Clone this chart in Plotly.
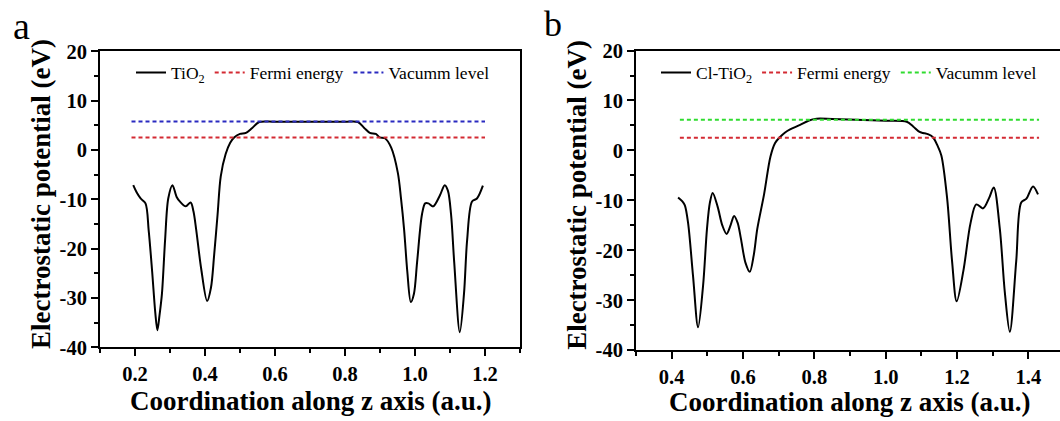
import plotly.graph_objects as go

# ---------------- data ----------------
# Panel a: TiO2 electrostatic potential
tio2_x = [0.195, 0.205, 0.216, 0.230, 0.239, 0.249, 0.258, 0.264, 0.270, 0.277, 0.286, 0.295,
          0.307, 0.319, 0.328, 0.345, 0.359, 0.367, 0.375, 0.389, 0.406, 0.417, 0.426, 0.436,
          0.445, 0.459, 0.472, 0.484, 0.500, 0.517, 0.535, 0.555, 0.600, 0.700, 0.800, 0.837,
          0.855, 0.871, 0.888, 0.899, 0.914, 0.932, 0.951, 0.960, 0.969, 0.978, 0.988, 0.997,
          1.006, 1.020, 1.029, 1.038, 1.052, 1.071, 1.085, 1.094, 1.103, 1.112, 1.128, 1.140,
          1.149, 1.163, 1.177, 1.194]
tio2_y = [-7.1, -8.6, -9.8, -10.8, -16.2, -24.6, -33.0, -36.5, -33.5, -29.1, -18.2, -9.8,
          -7.1, -9.5, -10.4, -11.4, -10.6, -12.4, -16.2, -24.0, -30.6, -27.9, -21.4, -13.0,
          -5.3, -0.8, 1.5, 2.6, 3.3, 3.5, 4.5, 5.7, 5.75, 5.75, 5.75, 5.7,
          4.5, 3.5, 3.3, 2.6, 2.4, 0.5, -4.6, -9.8, -16.2, -24.6, -30.8, -29.1,
          -22.7, -13.0, -10.8, -10.8, -11.4, -9.2, -7.1, -8.2, -13.0, -22.7, -36.9, -29.1,
          -18.2, -10.4, -9.8, -7.2]
a_level_x = [0.19, 1.2]
a_fermi = [2.55, 2.55]
a_vacuum = [5.8, 5.8]

# Panel b: Cl-TiO2 electrostatic potential
cl_x = [0.418, 0.430, 0.437, 0.446, 0.460, 0.474, 0.488, 0.499, 0.507, 0.515, 0.529, 0.542,
        0.554, 0.565, 0.575, 0.585, 0.594, 0.607, 0.619, 0.630, 0.640, 0.659, 0.677, 0.690,
        0.704, 0.718, 0.732, 0.760, 0.785, 0.806, 0.850, 0.937, 1.000, 1.059, 1.077, 1.095,
        1.105, 1.120, 1.133, 1.145, 1.156, 1.172, 1.186, 1.199, 1.218, 1.238, 1.254, 1.273,
        1.290, 1.303, 1.320, 1.334, 1.348, 1.366, 1.380, 1.394, 1.413, 1.427]
cl_y = [-9.4, -10.2, -11.0, -14.5, -25.2, -35.4, -27.1, -15.7, -10.5, -8.5, -11.3, -15.0,
        -16.7, -15.0, -13.1, -14.5, -17.6, -22.5, -24.3, -21.0, -15.7, -8.8, -1.2, 1.5,
        2.7, 3.6, 4.2, 5.1, 6.0, 6.35, 6.3, 6.1, 5.95, 5.75, 4.8, 3.7,
        3.5, 3.2, 2.6, 1.0, -1.0, -9.4, -22.1, -30.2, -24.0, -14.5, -10.8, -11.6,
        -9.5, -7.4, -15.7, -28.4, -36.3, -22.1, -10.4, -9.7, -7.2, -8.8]
b_level_x = [0.423, 1.43]
b_fermi = [2.55, 2.55]
b_vacuum = [6.15, 6.15]

# ticks
y_tickvals = [-40, -30, -20, -10, 0, 10, 20]
y_ticktext = ["-40", "-30", "-20", "-10", "0", "10", "20"]
y_minor = [-35, -25, -15, -5, 5, 15]
a_xticks = [0.2, 0.4, 0.6, 0.8, 1.0, 1.2]
b_xticks = [0.4, 0.6, 0.8, 1.0, 1.2, 1.4]

x_title = "Coordination along z axis (a.u.)"
y_title = "Electrostatic potential (eV)"

# ---------------- figure ----------------
W, H = 1060, 421
SERIF = "Liberation Serif"
RED = "#d42a33"
BLUE = "#2a2ac0"
GREEN = "#2fdc2f"

fig = go.Figure()

def add_panel(x, y, lx, fermi, vac, name, vac_color, xa, ya, leg):
    fig.add_trace(go.Scatter(x=x, y=y, mode="lines", name=name,
                             line=dict(color="black", width=2, shape="spline", smoothing=0.9),
                             xaxis=xa, yaxis=ya, legend=leg))
    fig.add_trace(go.Scatter(x=lx, y=fermi, mode="lines", name="Fermi energy",
                             line=dict(color=RED, width=2, dash="4px,3px"),
                             xaxis=xa, yaxis=ya, legend=leg))
    fig.add_trace(go.Scatter(x=lx, y=vac, mode="lines", name="Vacumm level",
                             line=dict(color=vac_color, width=2, dash="4px,3px"),
                             xaxis=xa, yaxis=ya, legend=leg))

add_panel(tio2_x, tio2_y, a_level_x, a_fermi, a_vacuum, "TiO<sub>2</sub>", BLUE, "x", "y", "legend")
add_panel(cl_x, cl_y, b_level_x, b_fermi, b_vacuum, "Cl-TiO<sub>2</sub>", GREEN, "x2", "y2", "legend2")

tickfont = dict(family=SERIF, size=20.5, color="black")

def xaxis(domain, rng, ticks, anchor):
    return dict(domain=domain, range=rng, anchor=anchor, tickmode="array", tickvals=ticks,
                ticktext=[f"<b>{t:.1f}</b>" for t in ticks], ticks="outside", ticklen=7, tickwidth=2,
                tickcolor="black", showline=True, linecolor="black", linewidth=2, mirror=True,
                showgrid=False, zeroline=False, tickfont=tickfont,
                minor=dict(tickvals=[round(t + 0.1, 2) for t in [ticks[0] - 0.2] + ticks],
                           ticks="outside", ticklen=4, tickwidth=2, tickcolor="black", showgrid=False))

def yaxis(domain, anchor, mirror):
    return dict(domain=domain, range=[-40, 20], anchor=anchor, tickmode="array",
                tickvals=y_tickvals, ticktext=[f"<b>{t}</b>" for t in y_ticktext],
                ticks="outside", ticklen=7, tickwidth=2,
                tickcolor="black", showline=True, linecolor="black", linewidth=2, mirror=mirror,
                showgrid=False, zeroline=False, tickfont=tickfont,
                minor=dict(tickvals=y_minor, ticks="outside", ticklen=4, tickwidth=2,
                           tickcolor="black", showgrid=False))

b_right = 0.3 + (W - 636) / 356.7

fig.update_layout(
    width=W, height=H, margin=dict(l=0, r=0, t=0, b=0),
    paper_bgcolor="white", plot_bgcolor="white",
    xaxis=xaxis([100 / W, 520 / W], [0.1, 1.3], a_xticks, "y"),
    yaxis=yaxis([1 - 355 / H, 1 - 42.7 / H], "x", True),
    xaxis2=xaxis([636 / W, 1.0], [0.3, b_right], b_xticks, "y2"),
    yaxis2=yaxis([1 - 358 / H, 1 - 41.7 / H], "x2", False),
    legend=dict(orientation="h", x=131 / W, y=1 - 65 / H, xanchor="left", yanchor="middle",
                font=dict(family=SERIF, size=17.5, color="black"), bgcolor="rgba(0,0,0,0)",
                tracegroupgap=0),
    legend2=dict(orientation="h", x=656 / W, y=1 - 65 / H, xanchor="left", yanchor="middle",
                 font=dict(family=SERIF, size=17.5, color="black"), bgcolor="rgba(0,0,0,0)",
                 tracegroupgap=0),
    showlegend=True,
)

titlefont = dict(family=SERIF, size=27, color="black", weight="bold")
yfont = dict(family=SERIF, size=27, color="black", weight="bold")
ann = [
    dict(text="<b>" + x_title + "</b>", x=311 / W, y=1 - 411 / H, font=titlefont),
    dict(text="<b>" + x_title + "</b>", x=850 / W, y=1 - 413 / H, font=titlefont),
    dict(text="<b>" + y_title + "</b>", x=41 / W, y=1 - 193 / H, font=yfont, textangle=-90),
    dict(text="<b>" + y_title + "</b>", x=577 / W, y=1 - 194 / H, font=yfont, textangle=-90),
    dict(text="a", x=21 / W, y=1 - 16 / H, font=dict(family=SERIF, size=38, color="black")),
    dict(text="b", x=553 / W, y=1 - 14 / H, font=dict(family=SERIF, size=36, color="black")),
]
for a in ann:
    fig.add_annotation(xref="paper", yref="paper", showarrow=False, xanchor="center",
                       yanchor="middle", **a)

fig.write_html("out.html")
